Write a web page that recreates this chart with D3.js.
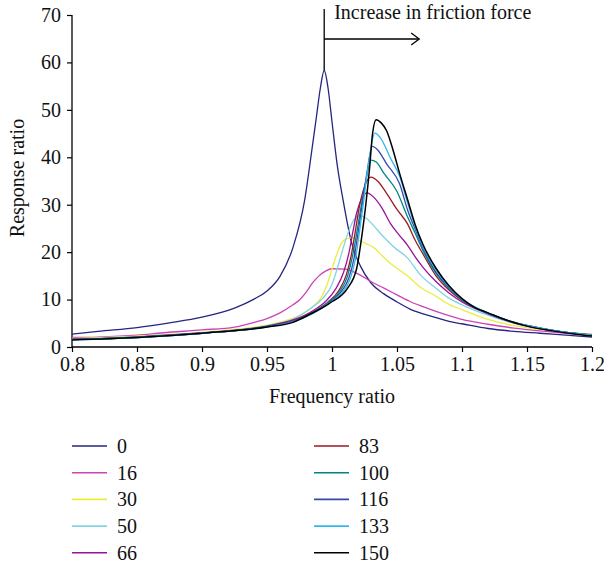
<!DOCTYPE html>
<html>
<head>
<meta charset="utf-8">
<script src="https://cdn.jsdelivr.net/npm/d3@7"></script>
<style>
    body { margin: 0; background: #fff; }
    text { font-family: "Liberation Serif", "DejaVu Serif", serif; fill: #111; }
</style>
</head>
<body>
<svg id="chart"></svg>
<script>
// Friction levels shown in the legend
const frictionLevels = ["0", "16", "30", "50", "66", "83", "100", "116", "133", "150"];

// Response curves, [frequency ratio, response ratio]
const r0 = [[0.80,2.7],[0.82,3.3],[0.85,4.1],[0.875,5.1],[0.90,6.3],[0.925,8.2],[0.94,10.1],[0.95,11.8],[0.96,14.9],[0.97,21.0],[0.979,31.0],[0.984,40.5],[0.988,48.5],[0.991,54.5],[0.994,58.3],[0.997,54.5],[1.000,47.5],[1.004,38.4],[1.0085,31.0],[1.015,22.0],[1.022,17.0],[1.03,13.5],[1.04,11.2],[1.05,9.5],[1.06,8.0],[1.07,7.0],[1.08,6.2],[1.09,5.4],[1.10,4.9],[1.12,3.9],[1.14,3.3],[1.16,2.9],[1.18,2.5],[1.20,2.1]];
const r16 = [[0.80,2.0],[0.82,2.1],[0.85,2.5],[0.87,3.0],[0.90,3.6],[0.925,4.2],[0.94,5.2],[0.95,6.0],[0.96,7.2],[0.97,8.9],[0.975,9.9],[0.98,11.5],[0.985,13.5],[0.99,15.0],[0.995,16.0],[1.0,16.5],[1.01,16.4],[1.02,15.4],[1.03,13.8],[1.04,12.4],[1.05,11.0],[1.06,9.6],[1.07,8.5],[1.08,7.5],[1.09,6.6],[1.10,5.8],[1.12,4.8],[1.14,4.0],[1.16,3.4],[1.18,2.9],[1.20,2.5]];
const r30 = [[0.80,1.8],[0.85,2.3],[0.90,3.1],[0.925,3.7],[0.95,4.6],[0.965,5.6],[0.975,6.6],[0.983,8.0],[0.988,9.2],[0.992,10.6],[0.996,13.0],[0.999,15.5],[1.003,19.0],[1.007,21.8],[1.011,22.8],[1.015,23.0],[1.02,22.6],[1.026,21.8],[1.032,21.0],[1.038,19.4],[1.045,17.6],[1.052,16.2],[1.058,15.0],[1.068,12.6],[1.08,10.7],[1.09,9.0],[1.10,7.9],[1.12,5.8],[1.14,4.5],[1.16,3.7],[1.18,3.1],[1.20,2.7]];
const r50 = [[0.80,1.7],[0.85,2.2],[0.90,3.0],[0.95,4.5],[0.97,5.9],[0.983,8.0],[0.993,10.3],[1.0,13.2],[1.004,16.5],[1.008,20.3],[1.012,23.8],[1.016,26.4],[1.021,27.7],[1.026,27.2],[1.032,25.6],[1.039,23.4],[1.048,21.0],[1.058,18.8],[1.068,15.2],[1.08,12.4],[1.09,10.3],[1.10,8.9],[1.12,6.7],[1.14,5.0],[1.16,3.9],[1.18,3.1],[1.20,2.6]];
const r66 = [[0.80,1.6],[0.85,2.1],[0.90,3.0],[0.95,4.4],[0.97,5.7],[0.985,7.6],[0.995,9.6],[1.003,12.3],[1.009,15.8],[1.013,19.8],[1.016,24.2],[1.019,28.3],[1.023,31.4],[1.027,32.5],[1.032,31.6],[1.038,29.5],[1.045,26.0],[1.052,23.5],[1.058,21.5],[1.064,19.0],[1.07,16.8],[1.08,13.8],[1.09,11.4],[1.10,9.5],[1.12,7.0],[1.14,5.1],[1.16,3.9],[1.18,3.1],[1.20,2.6]];
const r83 = [[0.80,1.6],[0.85,2.1],[0.90,2.9],[0.95,4.3],[0.97,5.5],[0.985,7.3],[0.997,9.5],[1.005,11.8],[1.011,15.2],[1.015,19.6],[1.018,24.5],[1.021,29.5],[1.025,33.8],[1.030,35.8],[1.035,35.0],[1.042,32.4],[1.05,29.0],[1.058,26.0],[1.064,22.5],[1.07,19.6],[1.08,15.0],[1.09,12.0],[1.10,9.8],[1.12,7.1],[1.14,5.2],[1.16,4.0],[1.18,3.1],[1.20,2.5]];
const r100 = [[0.80,1.6],[0.85,2.0],[0.90,2.9],[0.95,4.3],[0.97,5.4],[0.985,7.2],[0.997,9.4],[1.006,11.7],[1.012,15.0],[1.016,19.4],[1.019,24.0],[1.022,29.0],[1.026,35.0],[1.030,39.4],[1.034,39.0],[1.04,36.6],[1.05,32.8],[1.058,27.5],[1.064,24.0],[1.07,20.3],[1.08,15.5],[1.09,12.3],[1.10,9.9],[1.12,7.1],[1.14,5.2],[1.16,4.0],[1.18,3.1],[1.20,2.5]];
const r116 = [[0.80,1.6],[0.85,2.0],[0.90,2.9],[0.95,4.3],[0.97,5.4],[0.985,7.1],[0.998,9.4],[1.007,11.6],[1.013,14.6],[1.017,18.8],[1.020,24.0],[1.023,29.5],[1.027,37.0],[1.031,42.3],[1.035,41.6],[1.042,38.6],[1.052,34.4],[1.058,29.0],[1.064,24.8],[1.07,20.8],[1.08,15.8],[1.09,12.5],[1.10,10.0],[1.12,7.1],[1.14,5.2],[1.16,4.0],[1.18,3.1],[1.20,2.5]];
const r133 = [[0.80,1.5],[0.85,2.0],[0.90,2.9],[0.95,4.2],[0.97,5.3],[0.985,7.0],[0.998,9.3],[1.008,11.5],[1.014,14.4],[1.018,18.5],[1.021,24.0],[1.024,30.0],[1.028,38.5],[1.033,45.1],[1.037,44.2],[1.045,39.8],[1.052,36.0],[1.058,30.5],[1.064,25.3],[1.07,21.2],[1.08,16.2],[1.09,12.7],[1.10,10.1],[1.12,7.2],[1.14,5.2],[1.16,4.0],[1.18,3.1],[1.20,2.5]];
const r150 = [[0.80,1.5],[0.85,2.0],[0.90,2.9],[0.95,4.2],[0.97,5.2],[0.983,6.9],[0.998,9.2],[1.012,12.4],[1.019,16.6],[1.023,23.5],[1.026,30.0],[1.029,38.0],[1.031,44.5],[1.034,47.9],[1.038,47.2],[1.042,45.6],[1.047,41.5],[1.052,36.6],[1.058,31.2],[1.064,25.8],[1.07,21.6],[1.08,16.6],[1.09,12.9],[1.10,10.2],[1.11,8.3],[1.12,7.2],[1.135,5.6],[1.15,4.4],[1.17,3.4],[1.185,2.8],[1.20,2.3]];

// Axis ticks
const xTicks = [0.8, 0.85, 0.9, 0.95, 1, 1.05, 1.1, 1.15, 1.2];
const yTicks = [0, 10, 20, 30, 40, 50, 60, 70];

(() => {

    // Set dimensions
    const width = 604;
    const height = 567;
    const margin = { left: 72, right: 12, top: 15, bottom: 220 };

    const curves = [r0, r16, r30, r50, r66, r83, r100, r116, r133, r150];
    const colors = ["#262680", "#cc44b4", "#ecec3c", "#80d4e4", "#98119a",
                    "#9a1a22", "#008484", "#3848a8", "#30b8ec", "#000000"];

    const svg = d3.select("#chart")
        .attr("width", width)
        .attr("height", height);

    // Scales
    const x = d3.scaleLinear()
        .domain([0.8, 1.2])
        .range([margin.left, width - margin.right]);
    const y = d3.scaleLinear()
        .domain([0, 70])
        .range([height - margin.bottom, margin.top]);

    const fontSize = 20;

    // X axis
    const xAxis = svg.append("g")
        .attr("transform", `translate(0,${y(0)})`)
        .call(d3.axisBottom(x).tickValues(xTicks).tickSize(5).tickPadding(5)
            .tickFormat(d => String(+d.toFixed(2))));
    // Y axis
    const yAxis = svg.append("g")
        .attr("transform", `translate(${x(0.8)},0)`)
        .call(d3.axisLeft(y).tickValues(yTicks).tickSize(5).tickPadding(6));

    [xAxis, yAxis].forEach(a => {
        a.select(".domain").attr("stroke", "#000").attr("stroke-width", 1.3);
        a.selectAll(".tick line").attr("stroke", "#000").attr("stroke-width", 1.2);
        a.selectAll("text")
            .style("font-family", "'Liberation Serif', serif")
            .attr("font-size", fontSize)
            .attr("fill", "#111");
    });
    // plain axis lines, no end caps
    xAxis.select(".domain").attr("d", `M${x(0.8)},0H${x(1.2)}`);
    yAxis.select(".domain").attr("d", `M0,${y(70)}V${y(0)}`);

    // Axis titles
    svg.append("text")
        .attr("x", (x(0.8) + x(1.2)) / 2)
        .attr("y", 403)
        .attr("text-anchor", "middle")
        .attr("font-size", fontSize)
        .text("Frequency ratio");
    svg.append("text")
        .attr("transform", `translate(24,${(y(0) + y(70)) / 2 - 3}) rotate(-90)`)
        .attr("text-anchor", "middle")
        .attr("font-size", fontSize)
        .text("Response ratio");

    // Lines
    const line = d3.line()
        .x(d => x(d[0]))
        .y(d => y(d[1]))
        .curve(d3.curveMonotoneX);

    svg.append("g")
        .selectAll("path")
        .data(curves)
        .join("path")
        .attr("d", line)
        .attr("fill", "none")
        .attr("stroke", (d, i) => colors[i])
        .attr("stroke-width", (d, i) => i === 9 ? 1.5 : 1.3)
        .attr("stroke-linejoin", "round");

    // Annotation: marker at the undamped peak and arrow to the right
    const peakX = x(r0[14][0]);
    const ann = svg.append("g").attr("stroke", "#000").attr("stroke-width", 1.3).attr("fill", "none");
    ann.append("line")
        .attr("x1", peakX).attr("x2", peakX)
        .attr("y1", 9).attr("y2", y(r0[14][1]));
    ann.append("line")
        .attr("x1", peakX).attr("x2", peakX + 95)
        .attr("y1", 39).attr("y2", 39);
    ann.append("path")
        .attr("d", `M${peakX + 87},33L${peakX + 95},39L${peakX + 87},45`);
    svg.append("text")
        .attr("x", peakX + 10)
        .attr("y", 19)
        .attr("font-size", fontSize)
        .text("Increase in friction force");

    // Legend, two columns of five
    const legend = svg.append("g")
        .selectAll("g")
        .data(frictionLevels)
        .join("g")
        .attr("transform", (d, i) => `translate(${i < 5 ? 72 : 314},${446 + (i % 5) * 26.7})`);
    legend.append("line")
        .attr("x1", 0).attr("x2", 35)
        .attr("stroke", (d, i) => colors[i])
        .attr("stroke-width", 1.6);
    legend.append("text")
        .attr("x", 45)
        .attr("y", 7)
        .attr("font-size", fontSize)
        .text(d => d);
})();
</script>
</body>
</html>
